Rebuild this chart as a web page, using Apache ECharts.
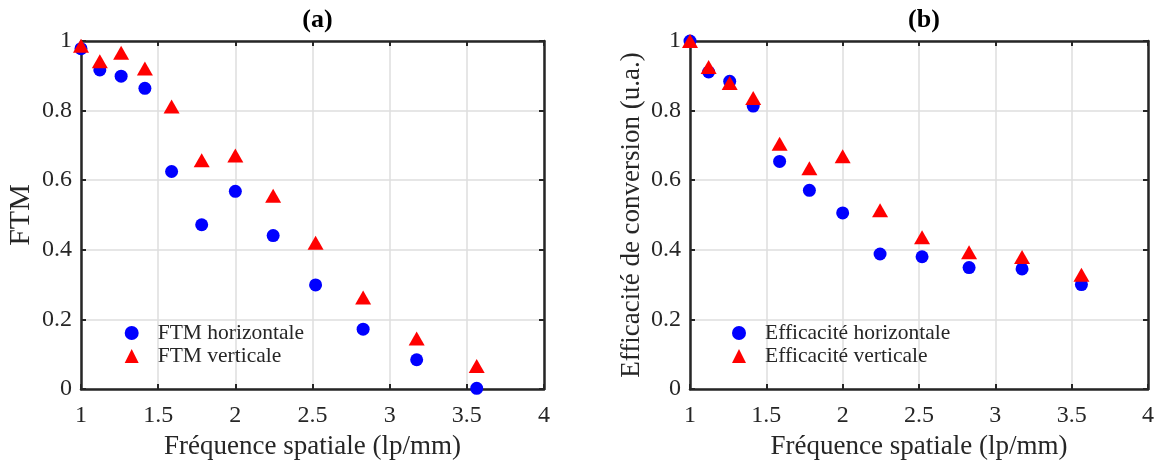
<!DOCTYPE html>
<html>
<head>
<meta charset="utf-8">
<script src="https://cdn.jsdelivr.net/npm/echarts@6/dist/echarts.min.js"></script>
<style>
html,body{margin:0;padding:0;background:#fff;}
#chart{width:1164px;height:465px;}
</style>
</head>
<body>
<div id="chart"></div>
<script>
// Spatial frequency (lp/mm)
const freq = [1, 1.122, 1.26, 1.414, 1.587, 1.782, 2, 2.245, 2.52, 2.828, 3.175, 3.564];
// Panel (a) FTM
const ftmH = [0.978, 0.917, 0.899, 0.864, 0.625, 0.472, 0.568, 0.441, 0.299, 0.172, 0.084, 0.002];
const ftmV = [0.986, 0.942, 0.966, 0.921, 0.812, 0.657, 0.671, 0.555, 0.420, 0.263, 0.145, 0.066];
// Panel (b) conversion efficiency
const effH = [1.0, 0.911, 0.884, 0.813, 0.654, 0.571, 0.506, 0.388, 0.380, 0.349, 0.345, 0.300];
const effV = [1.0, 0.925, 0.879, 0.836, 0.705, 0.634, 0.669, 0.514, 0.436, 0.393, 0.379, 0.328];

const titles = ['(a)', '(b)'];
const xName = 'Fréquence spatiale (lp/mm)';
const yNames = ['FTM', 'Efficacité de conversion (u.a.)'];
const legendNames = [['FTM horizontale', 'FTM verticale'], ['Efficacité horizontale', 'Efficacité verticale']];

const FONT = '"Liberation Serif", "Times New Roman", serif';
const TXT = '#262626';

const grids = [
  {left: 81, right: 620, top: 41, bottom: 73.5},
  {left: 690, right: 16, top: 41, bottom: 74}
];

const pair = (xs, ys) => xs.map((x, i) => [x, ys[i]]);

const xAxes = [], yAxes = [];
[0, 1].forEach(g => {
  xAxes.push({
    type: 'value', gridIndex: g, min: 1, max: 4, interval: 0.5, position: 'bottom',
    name: xName, nameLocation: 'middle', nameGap: 44,
    nameTextStyle: {fontFamily: FONT, fontSize: 27, color: TXT},
    axisLine: {show: true, onZero: false, lineStyle: {color: TXT, width: 2.5}},
    axisTick: {show: true, inside: true, length: 5, lineStyle: {color: TXT, width: 2}},
    axisLabel: {fontFamily: FONT, fontSize: 24, color: TXT, margin: 15},
    splitLine: {show: true, lineStyle: {color: '#dedede', width: 1.5}}
  });
  xAxes.push({
    type: 'value', gridIndex: g, min: 1, max: 4, interval: 0.5, position: 'top',
    axisLine: {show: true, onZero: false, lineStyle: {color: TXT, width: 2.5}},
    axisTick: {show: true, inside: true, length: 5, lineStyle: {color: TXT, width: 2}},
    axisLabel: {show: false}, splitLine: {show: false}
  });
  yAxes.push({
    type: 'value', gridIndex: g, min: 0, max: 1, interval: 0.2, position: 'left',
    name: yNames[g], nameLocation: 'middle', nameGap: g === 0 ? 44.5 : 45,
    nameTextStyle: {fontFamily: FONT, fontSize: g === 0 ? 30 : 27, color: TXT},
    axisLine: {show: true, onZero: false, lineStyle: {color: TXT, width: 2.5}},
    axisTick: {show: true, inside: true, length: 5, lineStyle: {color: TXT, width: 2}},
    axisLabel: {fontFamily: FONT, fontSize: 24, color: TXT, margin: 9},
    splitLine: {show: true, lineStyle: {color: '#dedede', width: 1.5}}
  });
  yAxes.push({
    type: 'value', gridIndex: g, min: 0, max: 1, interval: 0.2, position: 'right',
    axisLine: {show: true, onZero: false, lineStyle: {color: TXT, width: 2.5}},
    axisTick: {show: true, inside: true, length: 5, lineStyle: {color: TXT, width: 2}},
    axisLabel: {show: false}, splitLine: {show: false}
  });
});

const seriesData = [[ftmH, ftmV], [effH, effV]];
const series = [];
[0, 1].forEach(g => {
  series.push({
    name: legendNames[g][0], type: 'scatter', xAxisIndex: g * 2, yAxisIndex: g * 2,
    data: pair(freq, seriesData[g][0]), symbol: 'circle', symbolSize: 13,
    itemStyle: {color: '#0000ff', opacity: 1}, clip: false, z: 3
  });
  series.push({
    name: legendNames[g][1], type: 'scatter', xAxisIndex: g * 2, yAxisIndex: g * 2,
    data: pair(freq, seriesData[g][1]), symbol: 'triangle', symbolSize: [16, 14],
    itemStyle: {color: '#ff0000', opacity: 1}, clip: false, z: 4
  });
});

const legends = [
  {left: 119.7, top: 317, data: legendNames[0]},
  {left: 727, top: 317, data: legendNames[1]}
].map(l => Object.assign({
  orient: 'vertical', itemWidth: 14, itemHeight: 14, itemGap: 1,
  textStyle: {fontFamily: FONT, fontSize: 21.5, color: TXT, lineHeight: 22, padding: [0, 0, 0, 14]},
  selectedMode: false
}, l));

const chart = echarts.init(document.getElementById('chart'), null, {renderer: 'canvas'});
chart.setOption({
  backgroundColor: '#ffffff',
  animation: false,
  title: [
    {text: titles[0], left: 312.5, top: 2, textAlign: 'center',
     textStyle: {fontFamily: FONT, fontSize: 26, fontWeight: 'bold', color: '#000'}},
    {text: titles[1], left: 919, top: 2, textAlign: 'center',
     textStyle: {fontFamily: FONT, fontSize: 26, fontWeight: 'bold', color: '#000'}}
  ],
  grid: grids,
  xAxis: xAxes,
  yAxis: yAxes,
  legend: legends,
  series: series
});
</script>
</body>
</html>
